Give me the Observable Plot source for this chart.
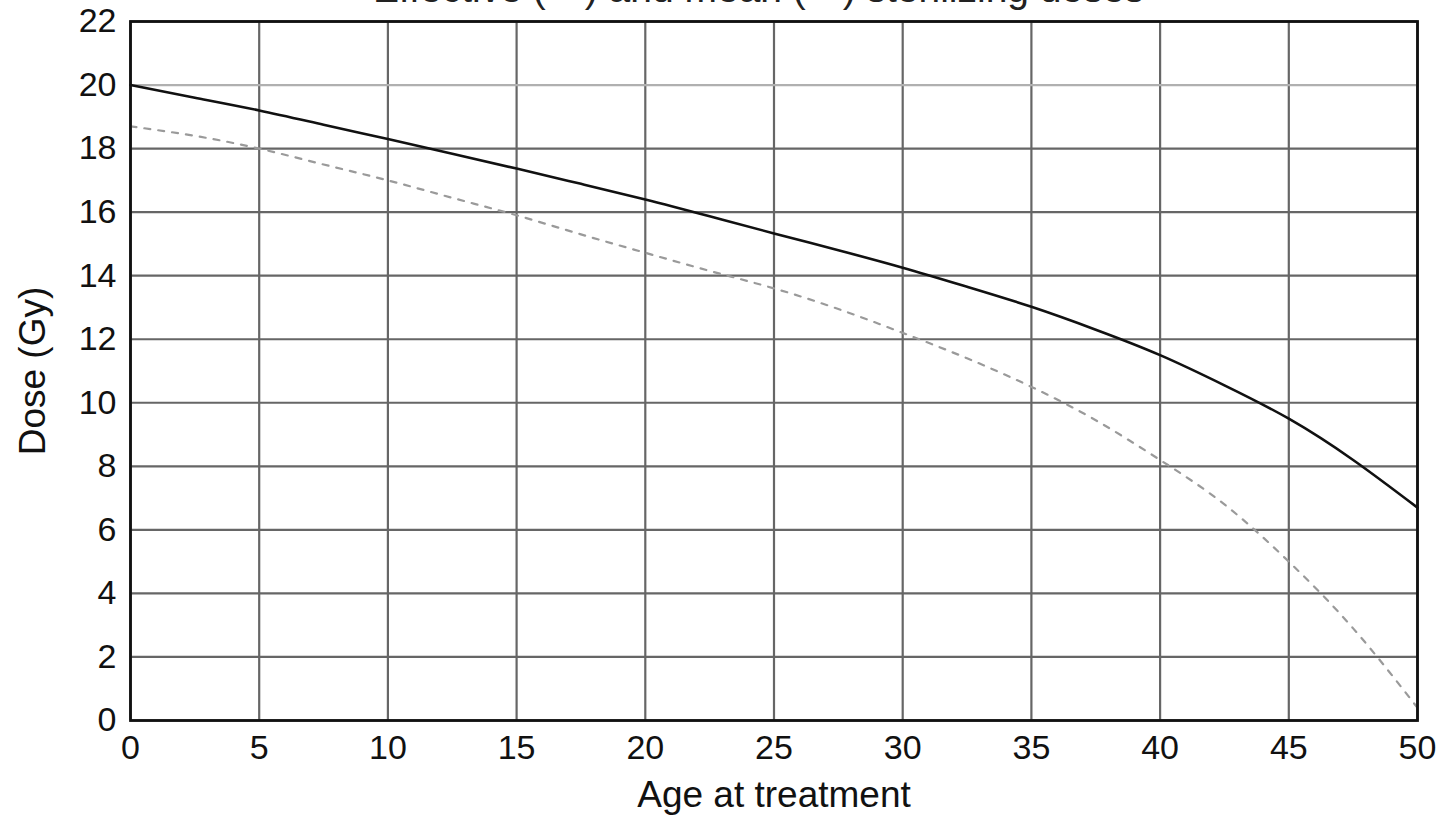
<!DOCTYPE html>
<html>
<head>
<meta charset="utf-8">
<script src="https://cdn.jsdelivr.net/npm/d3@7"></script>
<script src="https://cdn.jsdelivr.net/npm/@observablehq/plot@0.6"></script>
<style>
  html, body { margin: 0; padding: 0; background: #fff; overflow: hidden; }
  #wrap { position: relative; width: 1437px; height: 818px; }
  #title { position: absolute; left: 0; width: 1437px; top: -31px; text-align: center;
           font-family: "Liberation Sans", Arial, sans-serif; font-size: 39px; line-height: 40px;
           color: #222; z-index: 2; padding-left: 80px; box-sizing: border-box; }
  #chart { position: absolute; left: 0; top: 0; }
</style>
</head>
<body>
<div id="wrap">
  <div id="title">Effective (—) and mean (- -) sterilizing doses</div>
  <div id="chart"></div>
</div>
<script>
const ages = [0, 2.5, 5, 7.5, 10, 12.5, 15, 17.5, 20, 22.5, 25, 27.5, 30, 32.5, 35, 37.5, 40, 42.5, 45, 47.5, 50];
const effectiveDose = [20.0, 19.6, 19.2, 18.75, 18.3, 17.84, 17.37, 16.89, 16.4, 15.87, 15.33, 14.8, 14.25, 13.65, 13.02, 12.3, 11.5, 10.55, 9.5, 8.2, 6.7];
const meanDose = [18.7, 18.4, 18.0, 17.5, 17.0, 16.45, 15.9, 15.3, 14.72, 14.15, 13.6, 12.95, 12.2, 11.4, 10.5, 9.45, 8.2, 6.8, 5.0, 2.9, 0.4];
const xTicks = [0, 5, 10, 15, 20, 25, 30, 35, 40, 45, 50];
const yTicks = [0, 2, 4, 6, 8, 10, 12, 14, 16, 18, 20, 22];
const xLabel = "Age at treatment";
const yLabel = "Dose (Gy)";

const effective = ages.map((a, i) => ({age: a, dose: effectiveDose[i]}));
const mean = ages.map((a, i) => ({age: a, dose: meanDose[i]}));

const chart = Plot.plot({
  width: 1437,
  height: 818,
  marginLeft: 130,
  marginRight: 20,
  marginTop: 21,
  marginBottom: 98,
  style: {fontFamily: "'Liberation Sans', Arial, sans-serif", fontSize: "34px", color: "#111", background: "white"},
  x: {domain: [0, 50], label: null},
  y: {domain: [0, 22], label: null},
  marks: [
    Plot.ruleX(xTicks, {stroke: "#666", strokeWidth: 2.2}),
    Plot.ruleY(yTicks.filter(d => d !== 20), {stroke: "#666", strokeWidth: 2.2}),
    Plot.ruleY([20], {stroke: "#b0b0b0", strokeWidth: 2.2}),
    Plot.line(mean, {x: "age", y: "dose", curve: "natural", stroke: "#9a9a9a", strokeWidth: 2.2, strokeDasharray: "6,8"}),
    Plot.line(effective, {x: "age", y: "dose", curve: "natural", stroke: "#111", strokeWidth: 2.6}),
    Plot.frame({stroke: "#111", strokeWidth: 2.8}),
    Plot.axisX({ticks: xTicks, tickSize: 0, tickPadding: 14, label: null, fontSize: 34}),
    Plot.axisY({ticks: yTicks, tickSize: 0, tickPadding: 14, label: null, fontSize: 34}),
    Plot.text([xLabel], {frameAnchor: "bottom", dy: 75, fontSize: 37, text: d => d, lineAnchor: "middle"}),
    Plot.text([yLabel], {frameAnchor: "left", dx: -97, rotate: -90, fontSize: 37, textAnchor: "middle", text: d => d})
  ]
});
document.getElementById("chart").appendChild(chart);
</script>
</body>
</html>
